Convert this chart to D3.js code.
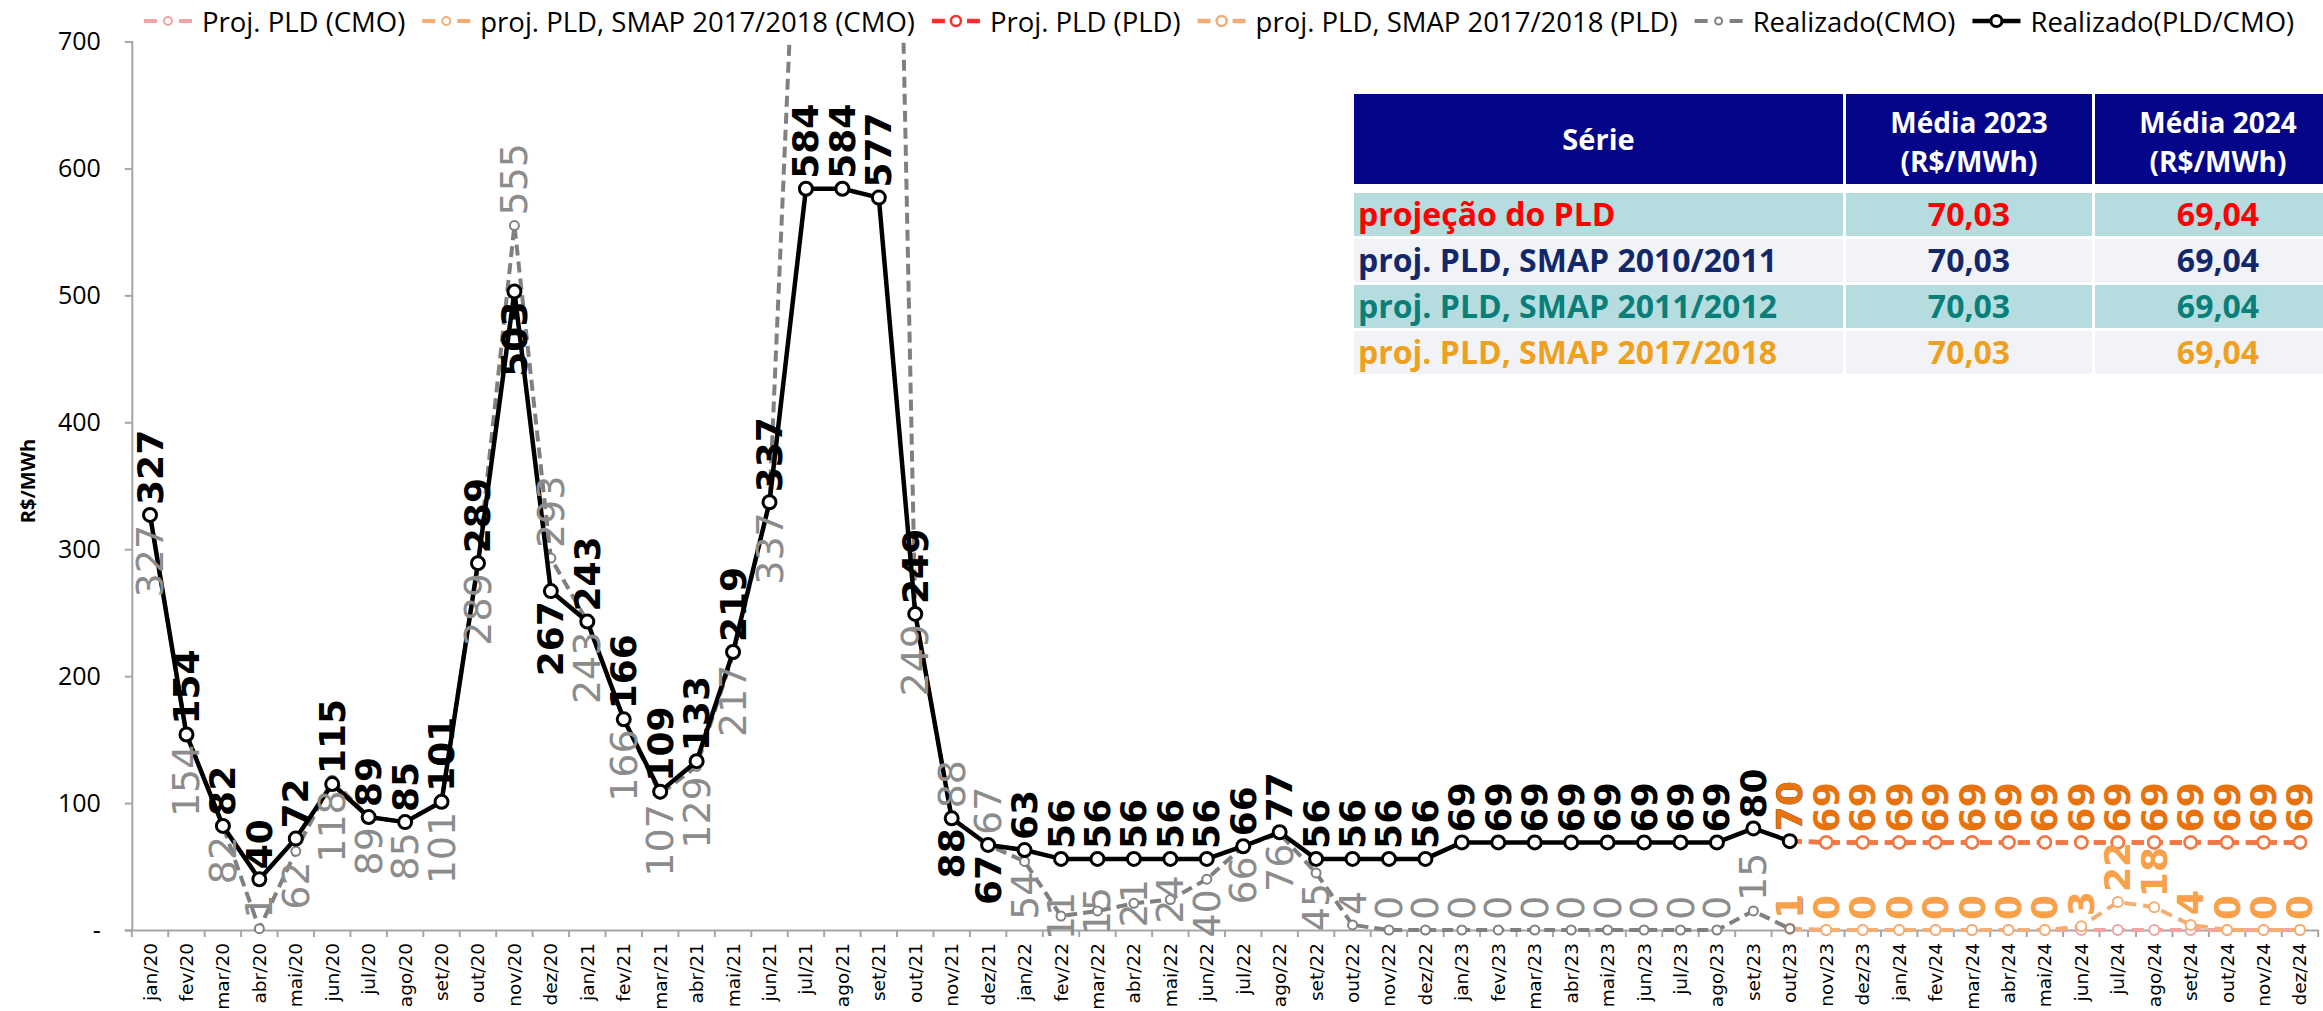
<!DOCTYPE html>
<html>
<head>
<meta charset="utf-8">
<script src="https://cdn.jsdelivr.net/npm/d3@7"></script>
<style>
  body { margin: 0; background: #fff; }
  svg { display: block; }
</style>
</head>
<body>
<script>
// ---- DATA ----
var months = [
  "jan/20","fev/20","mar/20","abr/20","mai/20","jun/20","jul/20","ago/20","set/20","out/20","nov/20","dez/20",
  "jan/21","fev/21","mar/21","abr/21","mai/21","jun/21","jul/21","ago/21","set/21","out/21","nov/21","dez/21",
  "jan/22","fev/22","mar/22","abr/22","mai/22","jun/22","jul/22","ago/22","set/22","out/22","nov/22","dez/22",
  "jan/23","fev/23","mar/23","abr/23","mai/23","jun/23","jul/23","ago/23","set/23","out/23","nov/23","dez/23",
  "jan/24","fev/24","mar/24","abr/24","mai/24","jun/24","jul/24","ago/24","set/24","out/24","nov/24","dez/24"
];

// realizado: jan/20 .. out/23
var realizadoPLD = [327,154,82,40,72,115,89,85,101,289,503,267,
                    243,166,109,133,219,337,584,584,577,249,88,67,
                    63,56,56,56,56,56,66,77,56,56,56,56,
                    69,69,69,69,69,69,69,69,80,70];
var realizadoCMO = [327,154,82,1,62,118,89,85,101,289,555,293,
                    243,166,107,129,217,337,1000,1300,1650,249,88,67,
                    54,11,15,21,24,40,66,76,45,4,0,0,
                    0,0,0,0,0,0,0,0,15,1];

// projections: out/23 .. dez/24
var projCMO      = [1,0,0,0,0,0,0,0,0,0,0,0,0,0,0];
var projCMO2017  = [1,0,0,0,0,0,0,0,3,22,18,4,0,0,0];
var projPLD      = [70,69,69,69,69,69,69,69,69,69,69,69,69,69,69];
var projPLD2017  = [70,69,69,69,69,69,69,69,69,69,69,69,69,69,69];

var legendNames = ["Proj. PLD (CMO)", "proj. PLD, SMAP 2017/2018 (CMO)", "Proj. PLD (PLD)",
                   "proj. PLD, SMAP 2017/2018 (PLD)", "Realizado(CMO)", "Realizado(PLD/CMO)"];

var yTicks = [0,100,200,300,400,500,600,700];

// table
var tableHeader = ["Série", "Média 2023", "Média 2024"];
var tableUnit = "(R$/MWh)";
var tableSeries = ["projeção do PLD", "proj. PLD, SMAP 2010/2011", "proj. PLD, SMAP 2011/2012", "proj. PLD, SMAP 2017/2018"];
var media2023 = [70.03, 70.03, 70.03, 70.03];
var media2024 = [69.04, 69.04, 69.04, 69.04];

// ---- SETUP ----
var width = 2323, height = 1011;
var svg = d3.select("body").append("svg")
    .attr("width", width)
    .attr("height", height);

var x = d3.scaleBand().domain(months).range([131.8, 2318.2]);
var y = d3.scaleLinear().domain([0, 700]).range([930, 41.5]);
var cx = function (m) { return x(m) + x.bandwidth() / 2; };

var projStart = months.indexOf("out/23");

var series = [
    { name: legendNames[0], values: projCMO, start: projStart, color: "#f4a3a3", dash: "12,7", w: 4, r: 5, mw: 2 },
    { name: legendNames[1], values: projCMO2017, start: projStart, color: "#f5ad72", dash: "12,7", w: 4, r: 5, mw: 2 },
    { name: legendNames[2], values: projPLD, start: projStart, color: "#ff2d2d", dash: "12,7", w: 4.5, r: 6, mw: 2.5 },
    { name: legendNames[3], values: projPLD2017, start: projStart, color: "#ee9148", dash: "12,7", w: 4.5, r: 6, mw: 2.5, op: 0.75 },
    { name: legendNames[4], values: realizadoCMO, start: 0, color: "#808080", dash: "11,6", w: 4, r: 4.5, mw: 2 },
    { name: legendNames[5], values: realizadoPLD, start: 0, color: "#000000", dash: null, w: 4.5, r: 6.5, mw: 3 }
];
series.forEach(function (s) {
    s.points = s.values.map(function (v, i) { return { m: months[s.start + i], v: v }; });
});

// clip for lines (top of plot)
svg.append("defs").append("clipPath").attr("id", "plot-clip")
    .append("rect").attr("x", 0).attr("y", y(700)).attr("width", width).attr("height", height);

// ---- AXES ----
var leftAxis = d3.axisLeft(y).tickValues(yTicks).tickSize(7).tickPadding(24)
    .tickFormat(function (d) { return d === 0 ? "-" : d; });
var gy = svg.append("g")
    .attr("class", "left axis")
    .attr("transform", "translate(131.8, 0)")
    .call(leftAxis);
gy.select(".domain").attr("stroke", "#a6a6a6").attr("stroke-width", 2);
gy.selectAll(".tick line").attr("stroke", "#a6a6a6").attr("stroke-width", 2);
gy.selectAll("text")
    .attr("font-family", "'Open Sans', sans-serif")
    .attr("font-size", "25px")
    .attr("fill", "#000");

var bottomAxis = d3.axisBottom(x).tickSize(0);
var gx = svg.append("g")
    .attr("class", "bottom axis")
    .attr("transform", "translate(0, 930)")
    .call(bottomAxis);
gx.select(".domain").attr("stroke", "#a6a6a6").attr("stroke-width", 2);
gx.selectAll("text")
    .attr("font-family", "'DejaVu Sans', sans-serif")
    .attr("font-size", "18.5px")
    .attr("fill", "#000")
    .attr("text-anchor", "end")
    .attr("x", -13)
    .attr("y", 0)
    .attr("dy", "0.35em")
    .attr("transform", "rotate(-90)");
// tick marks between categories
var edges = months.map(function (m) { return x(m); }).concat([x(months[months.length - 1]) + x.bandwidth()]);
gx.selectAll("line.edge").data(edges).enter()
    .append("line")
    .attr("class", "edge")
    .attr("x1", function (d) { return d; })
    .attr("x2", function (d) { return d; })
    .attr("y1", 0).attr("y2", 7)
    .attr("stroke", "#a6a6a6").attr("stroke-width", 2);

// y axis title
svg.append("text")
    .attr("transform", "translate(27, 481) rotate(-90)")
    .attr("text-anchor", "middle")
    .attr("dominant-baseline", "central")
    .attr("font-family", "'Open Sans', sans-serif")
    .attr("font-weight", "bold")
    .attr("font-size", "20px")
    .text("R$/MWh");

// ---- LINES ----
var line = d3.line()
    .x(function (d) { return cx(d.m); })
    .y(function (d) { return y(d.v); });

var plot = svg.append("g").attr("clip-path", "url(#plot-clip)");
series.forEach(function (s) {
    var g = plot.append("g").attr("opacity", s.op || 1);
    g.append("path")
        .datum(s.points)
        .attr("fill", "none")
        .attr("stroke", s.color)
        .attr("stroke-width", s.w)
        .attr("stroke-dasharray", s.dash)
        .attr("stroke-linejoin", "round")
        .attr("d", line);
    g.selectAll("circle").data(s.points).enter()
        .append("circle")
        .attr("cx", function (d) { return cx(d.m); })
        .attr("cy", function (d) { return y(d.v); })
        .attr("r", s.r)
        .attr("fill", "#fff")
        .attr("stroke", s.color)
        .attr("stroke-width", s.mw);
});

// ---- DATA LABELS ----
var blackBelow = ["nov/20", "dez/20", "nov/21", "dez/21"];
var grayAbove = ["nov/20", "dez/20", "nov/21", "dez/21", "set/23"];
var grayCenter = ["fev/22", "mar/22", "abr/22", "mai/22"];
var yMax = y.domain()[1];

function drawLabels(s, opts) {
    // points above the axis max fall outside the plot: no label
    var pts = s.points.filter(function (d) { return d.v <= yMax; });
    svg.append("g").selectAll("text").data(pts).enter()
        .append("text")
        .attr("transform", function (d) {
            var pos = opts.pos(d);
            var py = y(d.v);
            if (pos === "above") py -= 10;
            if (pos === "below") py += 10;
            return "translate(" + cx(d.m) + "," + py + ") rotate(-90)";
        })
        .attr("text-anchor", function (d) {
            var pos = opts.pos(d);
            return pos === "above" ? "start" : pos === "below" ? "end" : "middle";
        })
        .attr("dominant-baseline", "central")
        .attr("font-family", "'DejaVu Sans', sans-serif")
        .attr("font-size", opts.size)
        .attr("font-weight", opts.weight)
        .attr("fill", opts.color)
        .text(function (d) { return d3.format("d")(d.v); });
}

drawLabels(series[4], {
    color: "#8c8c8c", size: "38px", weight: "normal",
    pos: function (d) {
        if (grayAbove.indexOf(d.m) >= 0 || d.v < 10) return "above";
        if (grayCenter.indexOf(d.m) >= 0) return "center";
        return "below";
    }
});
drawLabels(series[5], {
    color: "#000", size: "36px", weight: "bold",
    pos: function (d) { return blackBelow.indexOf(d.m) >= 0 ? "below" : "above"; }
});
drawLabels(series[1], {
    color: "#f9a04a", size: "36px", weight: "bold",
    pos: function () { return "above"; }
});
drawLabels(series[3], {
    color: "#e8730e", size: "36px", weight: "bold",
    pos: function () { return "above"; }
});

// ---- LEGEND ----
var legend = svg.append("g").attr("class", "legend");
var lx = 144, ly = 21;
series.forEach(function (s) {
    var item = legend.append("g");
    item.append("line")
        .attr("x1", lx).attr("x2", lx + 48)
        .attr("y1", ly).attr("y2", ly)
        .attr("stroke", s.color)
        .attr("stroke-width", s.w)
        .attr("stroke-dasharray", s.dash ? "13,22,13" : null)
        .attr("opacity", s.op || 1);
    item.append("circle")
        .attr("cx", lx + 24).attr("cy", ly).attr("r", s.r - 1)
        .attr("fill", "#fff").attr("stroke", s.color).attr("stroke-width", s.mw)
        .attr("opacity", s.op || 1);
    var t = item.append("text")
        .attr("x", lx + 58).attr("y", ly)
        .attr("dominant-baseline", "central")
        .attr("font-family", "'Open Sans', sans-serif")
        .attr("font-size", "27.5px")
        .attr("fill", "#000")
        .text(s.name);
    lx += 58 + t.node().getComputedTextLength() + 17;
});

// ---- TABLE ----
var colX = [1354, 1846, 2095];
var colW = [489, 246, 246];
var headTop = 94, headH = 90;
var rowTop = 193, rowH = 43, rowStep = 46;
var rowBg = ["#b5dde0", "#f2f3f7", "#b5dde0", "#f2f3f7"];
var rowColor = ["#ff0000", "#13286b", "#0a7e78", "#f0a020"];
var fmt = function (v) { return d3.format(".2f")(v).replace(".", ","); };

var table = svg.append("g").attr("class", "table");
colX.forEach(function (cxx, i) {
    table.append("rect")
        .attr("x", cxx).attr("y", headTop)
        .attr("width", colW[i]).attr("height", headH)
        .attr("fill", "#05058a");
});
table.append("text")
    .attr("x", colX[0] + colW[0] / 2).attr("y", 150)
    .attr("text-anchor", "middle")
    .attr("font-family", "'Open Sans', sans-serif")
    .attr("font-weight", "bold").attr("font-size", "29px")
    .attr("fill", "#fff")
    .text(tableHeader[0]);
[1, 2].forEach(function (i) {
    table.append("text")
        .attr("x", colX[i] + colW[i] / 2).attr("y", 133)
        .attr("text-anchor", "middle")
        .attr("font-family", "'Open Sans', sans-serif")
        .attr("font-weight", "bold").attr("font-size", "28px")
        .attr("fill", "#fff")
        .text(tableHeader[i]);
    table.append("text")
        .attr("x", colX[i] + colW[i] / 2).attr("y", 172)
        .attr("text-anchor", "middle")
        .attr("font-family", "'Open Sans', sans-serif")
        .attr("font-weight", "bold").attr("font-size", "28px")
        .attr("fill", "#fff")
        .text(tableUnit);
});
tableSeries.forEach(function (name, r) {
    var ty = rowTop + r * rowStep;
    colX.forEach(function (cxx, i) {
        table.append("rect")
            .attr("x", cxx).attr("y", ty)
            .attr("width", colW[i]).attr("height", rowH)
            .attr("fill", rowBg[r]);
    });
    var cells = [name, fmt(media2023[r]), fmt(media2024[r])];
    cells.forEach(function (c, i) {
        table.append("text")
            .attr("x", i === 0 ? colX[0] + 4 : colX[i] + colW[i] / 2)
            .attr("y", ty + 33)
            .attr("text-anchor", i === 0 ? "start" : "middle")
            .attr("font-family", "'Open Sans', sans-serif")
            .attr("font-weight", "bold").attr("font-size", "32px")
            .attr("fill", rowColor[r])
            .text(c);
    });
});
</script>
</body>
</html>
